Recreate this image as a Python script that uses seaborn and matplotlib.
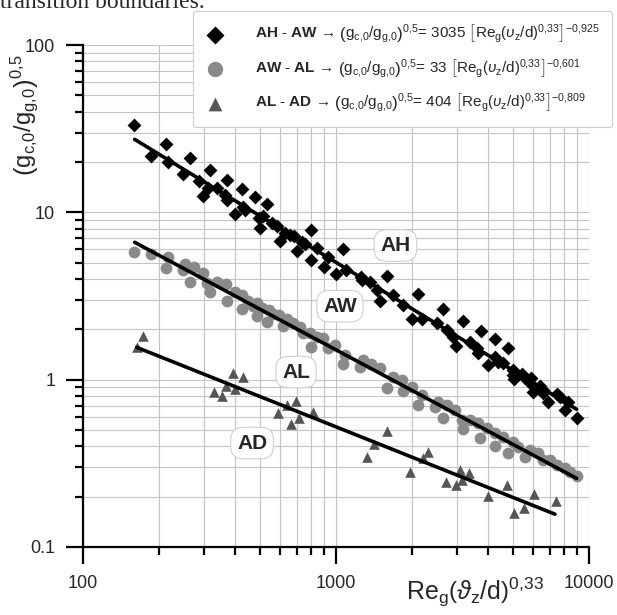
import matplotlib
matplotlib.use("Agg")
import matplotlib.pyplot as plt
from matplotlib.ticker import FixedLocator, FixedFormatter, LogLocator, NullFormatter
import pandas as pd
import seaborn as sns

# values
ah_x = [159, 213, 186, 217, 265, 248, 318, 287, 298, 311, 340, 371, 364, 372, 399, 425,
        428, 437, 479, 532, 498, 501, 513, 557, 583, 601, 629, 658, 682, 699, 732, 754,
        797, 794, 839, 899, 932, 1000, 1069, 1095, 1252, 1264, 1362, 1595, 1448, 1493,
        1685, 1845, 2115, 1992, 2182, 2500, 2655, 2739, 2909, 2981, 3187, 3385, 3597,
        3652, 3733, 4000, 4249, 4249, 4381, 4585, 4797, 4993, 5020, 5052, 5420, 5535,
        5845, 5900, 5992, 6402, 6598, 6565, 6905, 7452, 7680, 8037, 8286, 8940]
ah_y = [33.3, 25.7, 21.7, 20.1, 21.0, 16.9, 17.8, 15.4, 12.6, 13.9, 14.0, 15.6, 12.7, 11.8,
        9.77, 13.8, 10.8, 10.3, 12.4, 11.2, 9.2, 8.03, 9.5, 8.6, 8.28, 6.76, 7.49, 7.32,
        7.22, 5.89, 6.67, 6.46, 7.84, 5.19, 6.09, 4.73, 5.43, 4.28, 6.03, 4.52, 4.12, 3.94,
        3.85, 4.18, 3.43, 2.96, 3.20, 2.79, 3.25, 2.29, 2.32, 2.17, 2.64, 1.98, 1.80, 1.59,
        2.25, 1.68, 1.54, 1.45, 1.95, 1.22, 1.74, 1.37, 1.28, 1.25, 1.55, 1.15, 1.065,
        1.004, 1.08, 1.04, 0.958, 1.018, 0.847, 0.916, 0.867, 0.828, 0.738, 0.820, 0.790,
        0.658, 0.738, 0.587]

aw_x = [159, 186, 217, 213, 248, 253, 275, 265, 299, 310, 318, 338, 367, 370, 399, 424,
        424, 450, 469, 486, 486, 509, 532, 545, 565, 597, 619, 638, 678, 721, 739, 789,
        839, 891, 797, 930, 991, 1069, 1085, 1244, 1282, 1372, 1493, 1595, 1685, 1818,
        1845, 1992, 2115, 2182, 2462, 2537, 2655, 2739, 2954, 3139, 3187, 3385, 3652,
        3709, 3941, 4249, 4249, 4585, 4797, 4993, 5255, 5585, 5845, 6302, 6598, 7013,
        7452, 8037, 8413, 8940]
aw_y = [5.81, 5.63, 5.43, 4.63, 4.52, 4.91, 4.73, 3.85, 4.35, 3.80, 3.35, 3.85, 3.73, 2.95,
        3.35, 3.20, 2.63, 2.96, 2.75, 2.88, 2.40, 2.67, 2.22, 2.61, 2.47, 2.43, 2.09, 2.32,
        2.17, 2.05, 1.89, 1.91, 1.80, 1.77, 1.57, 1.55, 1.61, 1.24, 1.40, 1.19, 1.31, 1.24,
        1.17, 0.887, 1.04, 0.994, 0.858, 0.907, 0.705, 0.809, 0.689, 0.738, 0.587, 0.705,
        0.658, 0.573, 0.505, 0.573, 0.548, 0.446, 0.512, 0.478, 0.401, 0.456, 0.362, 0.425,
        0.397, 0.346, 0.379, 0.362, 0.331, 0.331, 0.309, 0.295, 0.282, 0.265]

ad_x = [172, 163, 393, 428, 330, 353, 367, 399, 588, 638, 693, 712, 662, 813, 1322, 1591,
        1413, 1961, 2310, 2214, 2710, 2989, 3090, 3365, 3139, 4000, 4729, 5066, 5550,
        6062, 7407]
ad_y = [1.83, 1.56, 1.10, 1.04, 0.847, 0.801, 0.916, 0.875, 0.636, 0.702, 0.748, 0.587,
        0.541, 0.640, 0.346, 0.495, 0.412, 0.282, 0.369, 0.341, 0.245, 0.234, 0.290, 0.277,
        0.251, 0.201, 0.234, 0.159, 0.170, 0.207, 0.189]

# fitted lines (end points)
ah_fit_x = [160, 8940]
ah_fit_y = [27.3, 0.665]
aw_fit_x = [160, 8940]
aw_fit_y = [6.62, 0.257]
ad_fit_x = [163, 7340]
ad_fit_y = [1.56, 0.157]

eq = (r"$\left(\mathrm{g}_{\mathrm{c{,}0}}/\mathrm{g}_{\mathrm{g{,}0}}\right)^{\mathrm{0{,}5}}$= {c} "
      r"$\left[\mathrm{Re}_{\mathrm{g}}\left(\upsilon_{\mathrm{z}}/\mathrm{d}\right)^{\mathrm{0{,}33}}\right]^{\mathrm{-0{,}{e}}}$")
legend_labels = [
    r"$\mathbf{AH}$ - $\mathbf{AW}$ → " + eq.replace("{c}", "3035").replace("{e}", "925"),
    r"$\mathbf{AW}$ - $\mathbf{AL}$ → " + eq.replace("{c}", "33").replace("{e}", "601"),
    r"$\mathbf{AL}$ - $\mathbf{AD}$ → " + eq.replace("{c}", "404").replace("{e}", "809"),
]

region_names = ["AH", "AW", "AL", "AD"]
region_x = [1718, 1037, 695, 466]
region_y = [6.33, 2.75, 1.11, 0.418]

x_ticks = [100, 1000, 10000]
x_tick_labels = ["100", "1000", "10000"]
y_ticks = [0.1, 1, 10, 100]
y_tick_labels = ["0.1", "1", "10", "100"]

sns.set_style("white")
plt.rcParams["font.family"] = ["Liberation Sans", "DejaVu Sans"]
plt.rcParams["mathtext.fontset"] = "custom"
plt.rcParams["mathtext.rm"] = "Liberation Sans"
plt.rcParams["mathtext.it"] = "Liberation Sans:italic"
plt.rcParams["mathtext.bf"] = "Liberation Sans:bold"

fig = plt.figure(figsize=(6.17, 6.15), dpi=100)
ax = fig.add_axes([0.1345, 0.1106, 0.8201, 0.8162])

ax.set_xscale("log")
ax.set_yscale("log")
ax.set_xlim(100, 10000)
ax.set_ylim(0.1, 100)

ax.grid(which="both", color="#c4c4c4", lw=0.8)
ax.set_axisbelow(True)

ah = pd.DataFrame({"x": ah_x, "y": ah_y})
aw = pd.DataFrame({"x": aw_x, "y": aw_y})
ad = pd.DataFrame({"x": ad_x, "y": ad_y})

sns.scatterplot(data=ah, x="x", y="y", marker="D", s=50, color="black", linewidth=0,
                ax=ax, label=legend_labels[0], zorder=3)
sns.scatterplot(data=aw, x="x", y="y", marker="o", s=72, color="#8a8a8a", linewidth=0,
                ax=ax, label=legend_labels[1], zorder=3)
sns.scatterplot(data=ad, x="x", y="y", marker="^", s=58, color="#555555", linewidth=0,
                ax=ax, label=legend_labels[2], zorder=3)

for fx, fy in [(ah_fit_x, ah_fit_y), (aw_fit_x, aw_fit_y), (ad_fit_x, ad_fit_y)]:
    sns.lineplot(x=fx, y=fy, color="black", lw=2.6, ax=ax, zorder=4)

for name, rx, ry in zip(region_names, region_x, region_y):
    ax.text(rx, ry, name, ha="center", va="center", fontsize=15, fontweight="bold",
            zorder=5,
            bbox=dict(boxstyle="round,pad=0.3,rounding_size=0.6", fc="white",
                      ec="#d0d0d0", lw=0.8))

ax.xaxis.set_major_locator(FixedLocator(x_ticks))
ax.xaxis.set_major_formatter(FixedFormatter(x_tick_labels))
ax.yaxis.set_major_locator(FixedLocator(y_ticks))
ax.yaxis.set_major_formatter(FixedFormatter(y_tick_labels))
ax.xaxis.set_minor_locator(LogLocator(base=10, subs=range(2, 10), numticks=20))
ax.yaxis.set_minor_locator(LogLocator(base=10, subs=range(2, 10), numticks=20))
ax.xaxis.set_minor_formatter(NullFormatter())
ax.yaxis.set_minor_formatter(NullFormatter())

ax.tick_params(which="major", length=12, width=1.6, labelsize=13, pad=8, color="black")
ax.tick_params(which="minor", length=5.5, width=1.6, color="black")
ax.tick_params(axis="both", which="both", direction="out", bottom=True, left=True)

for side in ["top", "right"]:
    ax.spines[side].set_visible(False)
for side in ["left", "bottom"]:
    ax.spines[side].set_linewidth(1.6)
    ax.spines[side].set_color("black")

ax.set_xlabel(r"$\mathrm{Re}_{\mathrm{g}}\left(\vartheta_{\mathrm{z}}/\mathrm{d}\right)^{\mathrm{0{,}33}}$",
              fontsize=18)
ax.xaxis.set_label_coords(0.775, -0.09)
ax.xaxis.label.set_va("center")
ax.set_ylabel(r"$\left(\mathrm{g}_{\mathrm{c{,}0}}/\mathrm{g}_{\mathrm{g{,}0}}\right)^{\mathrm{0{,}5}}$",
              fontsize=17)
ax.yaxis.set_label_coords(-0.115, 0.86)
ax.yaxis.label.set_va("center")

leg = ax.legend(loc="upper right", bbox_to_anchor=(0.992, 0.982),
                bbox_transform=fig.transFigure, borderaxespad=0, fontsize=11,
                frameon=True, fancybox=True, framealpha=1, edgecolor="#cccccc",
                markerscale=1.3, handletextpad=2.0, labelspacing=0.8,
                borderpad=0.8, handlelength=1.3)
leg.get_frame().set_linewidth(0.8)
leg.set_zorder(10)

fig.text(0.0, 1 - 8 / 615, "transition boundaries.", family="Liberation Serif",
         fontsize=17, va="baseline", ha="left")

fig.savefig("out.png", dpi=100)
